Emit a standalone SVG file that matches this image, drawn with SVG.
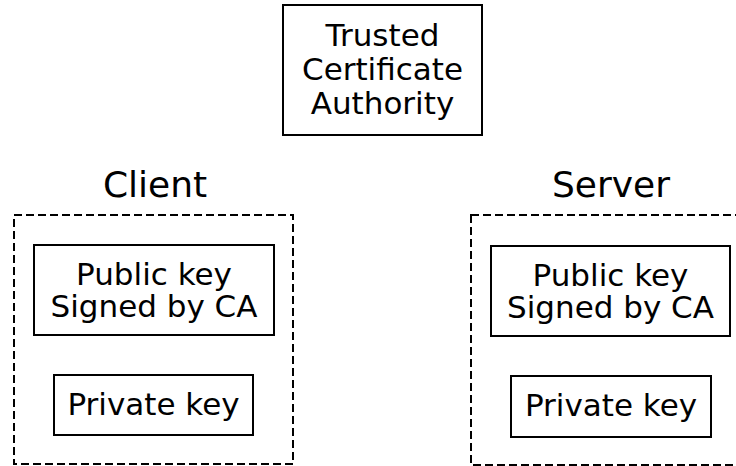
<svg xmlns="http://www.w3.org/2000/svg" width="736" height="466" viewBox="0 0 736 466">
<style>
.box{fill:#fff;stroke:#000;stroke-width:2}
.grp{fill:none;stroke:#000;stroke-width:2;stroke-dasharray:8,4}
text{font-family:"DejaVu Sans",sans-serif;fill:#000;text-anchor:middle}
.t{font-size:31px}
.h{font-size:36px}
</style>
<rect width="736" height="466" fill="#fff"/>
<g id="ca">
<rect class="box" x="283" y="5" width="199" height="130"/>
<text class="t" x="382.5" y="46">Trusted</text>
<text class="t" x="382.5" y="80">Certificate</text>
<text class="t" x="382.5" y="114">Authority</text>
</g>
<g id="client">
<text class="h" x="155" y="197">Client</text>
<rect class="grp" x="14" y="215" width="279" height="249"/>
</g>
<g id="client-public">
<rect class="box" x="34" y="245" width="240" height="90"/>
<text class="t" x="154" y="285">Public key</text>
<text class="t" x="154" y="317">Signed by CA</text>
</g>
<g id="client-private">
<rect class="box" x="54" y="375" width="199" height="60"/>
<text class="t" x="153.5" y="415">Private key</text>
</g>
<g id="server">
<text class="h" x="611" y="197">Server</text>
<rect class="grp" x="471" y="215" width="300" height="250"/>
</g>
<g id="server-public">
<rect class="box" x="491" y="246" width="239" height="90"/>
<text class="t" x="610.5" y="286">Public key</text>
<text class="t" x="610.5" y="318">Signed by CA</text>
</g>
<g id="server-private">
<rect class="box" x="511" y="376" width="200" height="61"/>
<text class="t" x="611" y="416">Private key</text>
</g>
<g id="connectors"></g>
</svg>
